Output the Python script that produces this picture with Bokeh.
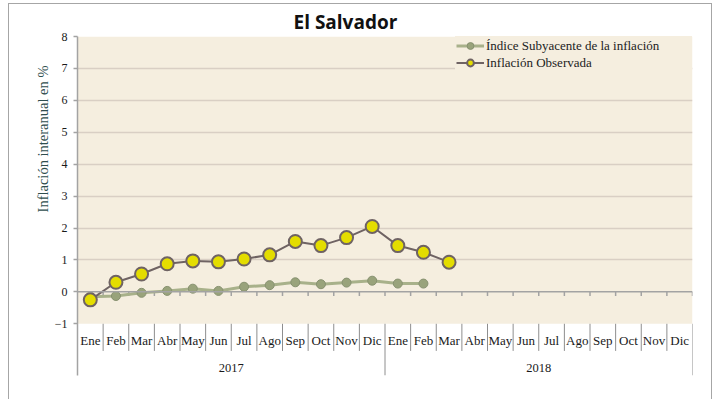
import numpy as np
from bokeh.plotting import figure
from bokeh.models import (Range1d, FixedTicker, Legend, LegendItem,
                          BoxAnnotation, Span, Title)
from bokeh.core.properties import value
from bokeh.embed import file_html
from bokeh.resources import INLINE

# ---- data -------------------------------------------------------------
months = ["Ene", "Feb", "Mar", "Abr", "May", "Jun",
          "Jul", "Ago", "Sep", "Oct", "Nov", "Dic"]
years = ["2017", "2018"]
observada = [-0.25, 0.30, 0.56, 0.88, 0.97, 0.94, 1.03, 1.16, 1.58, 1.45,
             1.70, 2.05, 1.45, 1.24, 0.93]
subyacente = [-0.15, -0.13, -0.03, 0.03, 0.10, 0.03, 0.16, 0.21, 0.30, 0.24,
              0.29, 0.35, 0.26, 0.26]
y_ticks = [-1, 0, 1, 2, 3, 4, 5, 6, 7, 8]
title_text = "El Salvador"
y_title = "Inflación interanual en %"
name_sub = "Índice Subyacente de la inflación"
name_obs = "Inflación Observada"

# ---- styles -----------------------------------------------------------
SERIF = "Liberation Serif"
BEIGE = "#F5EEDF"
GRID = "#D9CFC4"
AXIS = "#A3A3A3"
SEP = "#8E8E8E"
OBS_LINE = "#6F6363"
OBS_FILL = "#E4DD00"
SUB_LINE = "#A8B18A"
SUB_FILL = "#99A37B"
SUB_EDGE = "#879170"

n_cat = len(months) * len(years)
cats = [(y, m) for y in years for m in months]
y_min_plot = min(y_ticks)
y_max_plot = max(y_ticks)
y_bottom = -2.62  # room below the plot area for category labels

W, H = 704, 396
p = figure(width=W, height=H, output_backend="svg", toolbar_location=None,
           x_range=Range1d(0, n_cat), y_range=Range1d(y_bottom, y_max_plot),
           x_axis_location=None, min_border_left=68, min_border_right=W - 683,
           min_border_top=32, min_border_bottom=H - 371)
p.styles = {"margin-left": "8px", "margin-top": "3px",
            "border-left": "1px solid #A6A6A6",
            "border-top": "1px solid #A6A6A6",
            "border-right": "1px solid #A6A6A6"}
p.outline_line_color = None
p.background_fill_color = "white"
p.border_fill_color = "white"

# title
p.title = Title(text=title_text, align="left", offset=216,
                text_font="Open Sans", text_font_style="bold",
                text_font_size="19px", text_color="#111111", standoff=4)

# plot-area background
p.add_layout(BoxAnnotation(left=0, right=n_cat, bottom=y_min_plot, top=y_max_plot,
                           fill_color=BEIGE, fill_alpha=1, line_color=None,
                           level="image"))

# y axis
p.yaxis.ticker = FixedTicker(ticks=y_ticks)
p.yaxis.axis_line_color = AXIS
p.yaxis.axis_line_width = 1.5
p.yaxis.major_tick_line_color = AXIS
p.yaxis.major_tick_line_width = 1.5
p.yaxis.major_tick_in = 0
p.yaxis.major_tick_out = 4
p.yaxis.minor_tick_line_color = None
p.yaxis.major_label_text_font = SERIF
p.yaxis.major_label_text_font_size = "12px"
p.yaxis.major_label_text_color = "#1a1a1a"
p.yaxis.major_label_standoff = 6

# y-axis title (placed near the top like the original)
p.add_layout(Title(text=y_title, align="right", offset=29,
                   text_font=SERIF, text_font_style="normal",
                   text_font_size="14.5px", text_color="#2E4D4D",
                   standoff=2), "left")

# grid
p.xgrid.visible = False
p.ygrid.ticker = FixedTicker(ticks=[t for t in y_ticks if t > 0])
p.ygrid.grid_line_color = GRID
p.ygrid.grid_line_width = 1.5

# horizontal axis line at zero with tick marks at category boundaries
p.add_layout(Span(location=0, dimension="width", line_color=AXIS, line_width=1.5))
bounds = np.arange(1, n_cat + 1)
p.segment(x0=bounds, y0=0, x1=bounds, y1=-0.13, line_color=AXIS, line_width=1.5)

# category separators below plot area
year_bounds = np.arange(len(months), n_cat + 1, len(months))
month_bounds = np.array([b for b in bounds if b not in year_bounds])
p.segment(x0=month_bounds, y0=y_min_plot, x1=month_bounds, y1=-1.85,
          line_color=SEP, line_width=1)
p.segment(x0=year_bounds, y0=y_min_plot, x1=year_bounds, y1=y_bottom,
          line_color=SEP, line_width=1)

# category labels
xc = np.arange(n_cat) + 0.5
p.text(x=xc, y=[-1.53] * n_cat, text=[c[1] for c in cats],
       text_font=value(SERIF), text_font_size="13px", text_color="#1a1a1a",
       text_align="center", text_baseline="middle")
yc = [len(months) * (i + 0.5) for i in range(len(years))]
p.text(x=yc, y=[-2.38] * len(years), text=years,
       text_font=value(SERIF), text_font_size="12.5px", text_color="#1a1a1a",
       text_align="center", text_baseline="middle")

# series
xs = np.arange(len(subyacente)) + 0.5
xo = np.arange(len(observada)) + 0.5
l1 = p.line(xs, subyacente, line_color=SUB_LINE, line_width=3)
s1 = p.scatter(xs, subyacente, size=9, fill_color=SUB_FILL,
               line_color=SUB_EDGE, line_width=1)
l2 = p.line(xo, observada, line_color=OBS_LINE, line_width=2)
s2 = p.scatter(xo, observada, size=13, fill_color=OBS_FILL,
               line_color=OBS_LINE, line_width=2)

legend = Legend(items=[LegendItem(label=name_sub, renderers=[l1, s1]),
                       LegendItem(label=name_obs, renderers=[l2, s2])],
                location="top_right", margin=0, padding=1, spacing=0,
                glyph_width=28, glyph_height=17, label_height=17,
                label_width=205, label_standoff=2,
                label_text_font=SERIF, label_text_font_size="13px",
                label_text_color="#222222",
                background_fill_color=BEIGE, background_fill_alpha=1,
                border_line_alpha=0)
p.add_layout(legend)

open("out.html", "w").write(file_html(p, INLINE))
